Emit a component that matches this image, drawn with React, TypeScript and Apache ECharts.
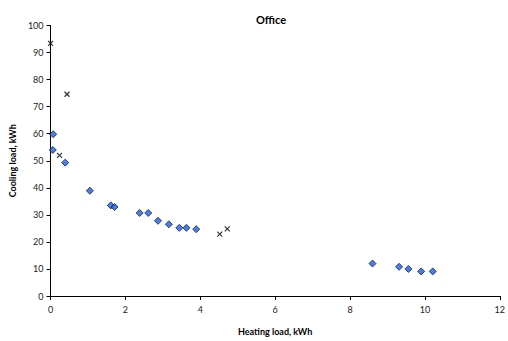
import React, { useEffect, useRef } from "react";
import * as echarts from "echarts";

const officeHeating = [0.07, 0.06, 0.39, 1.05, 1.61, 1.71, 2.38, 2.61, 2.87, 3.16, 3.44, 3.63, 3.89, 8.6, 9.31, 9.56, 9.9, 10.21];
const officeCooling = [59.8, 54.0, 49.3, 38.9, 33.5, 32.9, 30.7, 30.7, 27.8, 26.5, 25.2, 25.2, 24.7, 12.0, 10.8, 10.0, 9.1, 9.1];
const crossHeating = [0.0, 0.44, 0.24, 4.52, 4.72];
const crossCooling = [93.4, 74.6, 52.0, 22.9, 24.8];

const FONT = "Lato, 'Open Sans', sans-serif";

export default function App() {
  const ref = useRef<HTMLDivElement>(null);
  useEffect(() => {
    if (!ref.current) return;
    const chart = echarts.init(ref.current, null, { renderer: "svg" });
    const axisCommon = {
      axisLine: { show: true, lineStyle: { color: "#000", width: 1 } },
      axisTick: { show: true, length: 4, lineStyle: { color: "#000" } },
      splitLine: { show: false },
      axisLabel: { color: "#222", fontSize: 9, fontFamily: FONT },
      nameTextStyle: { color: "#000", fontSize: 9, fontWeight: "bold", fontFamily: FONT },
    };
    chart.setOption({
      animation: false,
      backgroundColor: "#fff",
      title: {
        text: "Office",
        left: 266,
        textAlign: "center",
        top: 9,
        textStyle: { fontSize: 11, fontWeight: "bold", color: "#000", fontFamily: FONT },
      },
      grid: { left: 46, top: 25.5, right: 5, bottom: 39, containLabel: false },
      xAxis: {
        type: "value",
        min: 0,
        max: 12,
        interval: 2,
        name: "Heating load, kWh",
        nameLocation: "middle",
        nameGap: 31,
        ...axisCommon,
        axisLabel: { ...axisCommon.axisLabel, margin: 9 },
      },
      yAxis: {
        type: "value",
        min: 0,
        max: 100,
        interval: 10,
        name: "Cooling load, kWh",
        nameLocation: "middle",
        nameGap: 33,
        nameRotate: 90,
        ...axisCommon,
        axisLabel: { ...axisCommon.axisLabel, margin: 7 },
      },
      series: [
        {
          type: "scatter",
          data: officeHeating.map((x, i) => [x, officeCooling[i]]),
          symbol: "path://M5,0L10,5L5,10L0,5Z",
          symbolSize: 7,
          itemStyle: { color: "#1f5fe0", borderColor: "#0b1f4a", borderWidth: 1 },
        },
        {
          type: "scatter",
          data: crossHeating.map((x, i) => [x, crossCooling[i]]),
          symbol: "path://M0,0L10,10M10,0L0,10",
          symbolSize: 5,
          itemStyle: { color: "none", borderColor: "#000", borderWidth: 1.2 },
        },
      ],
    });
    return () => chart.dispose();
  }, []);
  return <div ref={ref} style={{ position: "fixed", left: 0, top: 0, width: 508, height: 341 }} />;
}
